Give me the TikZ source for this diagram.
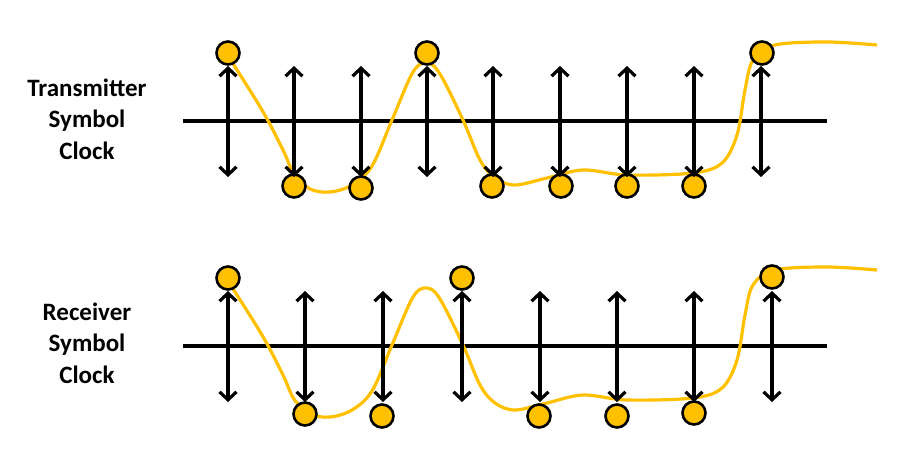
\documentclass[tikz,border=0pt]{standalone}
\usepackage{fontspec}
\setmainfont{Carlito}
\usetikzlibrary{arrows.meta}

\definecolor{gold}{HTML}{FFC000}

\begin{document}
\begin{tikzpicture}[x=1pt, y=-1pt,
    dot/.style={circle, draw, line width=2.6pt, fill=gold, minimum size=23pt, inner sep=0pt},
    tick/.style={line width=3.4pt, {Straight Barb[length=8pt,width=17pt,line width=3.2pt]}-{Straight Barb[length=8pt,width=17pt,line width=3.2pt]}},
    axis/.style={line width=3.2pt},
    wave/.style={gold, line width=3.2pt},
    lbl/.style={font=\fontsize{25}{31.5}\selectfont\bfseries, align=center}]
    \useasboundingbox (0,0) rectangle (923,466);

    % labels
    \node[lbl] (tx) at (87,119) {Transmitter\\Symbol\\Clock};
    \node[lbl] (rx) at (87,343) {Receiver\\Symbol\\Clock};

    % time axes
    \coordinate (ta) at (183,121);
    \coordinate (tb) at (827,121);
    \coordinate (ra) at (183,346);
    \coordinate (rb) at (827,346);
    \draw[axis] (ta) -- (tb);
    \draw[axis] (ra) -- (rb);

    % same waveform in both rows
    \foreach \dy in {0,225}
        \draw[wave, shift={(0,\dy)}] plot[smooth, tension=0.55] coordinates {
            (228,56) (262,110) (283,150) (294,174) (310,189) (330,192)
            (352,185) (372,166) (392,120) (413,72) (427,63) (440,74)
            (463,120) (480,160) (495,178) (515,185) (547,178) (583,170)
            (627,175) (693,173) (722,163) (737,135) (745,90) (753,60)
            (775,45) (827,42) (877,45)};

    % samples
    \foreach \x/\y [count=\i] in {228/53, 294/186, 361/188, 427/53, 492/186,
                                  561/186, 627/186, 694/186, 762/53}
        \node[dot] (t\i) at (\x,\y) {};
    \foreach \x/\y [count=\i] in {228/278, 305/414, 382/416, 462/278,
                                  539/416, 617/416, 694/413, 772/277}
        \node[dot] (r\i) at (\x,\y) {};

    % clock ticks
    \foreach \x [count=\i] in {228,294,361,427,493,560,627,694,761} {
        \coordinate (tu\i) at (\x,66);
        \coordinate (td\i) at (\x,177);
        \draw[tick] (tu\i) -- (td\i);
    }
    \foreach \x [count=\i] in {228,305,383,462,540,617,694,772} {
        \coordinate (ru\i) at (\x,291);
        \coordinate (rd\i) at (\x,402);
        \draw[tick] (ru\i) -- (rd\i);
    }
\end{tikzpicture}
\end{document}
